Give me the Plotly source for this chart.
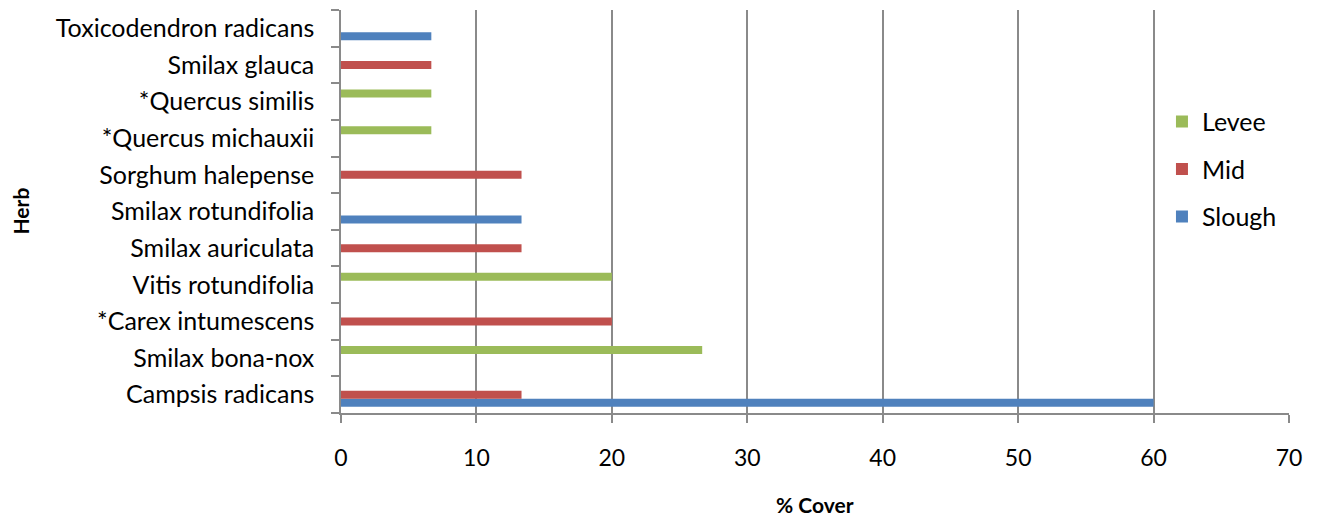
import plotly.graph_objects as go

categories = [
    "Campsis radicans", "Smilax bona-nox", "*Carex intumescens", "Vitis rotundifolia",
    "Smilax auriculata", "Smilax rotundifolia", "Sorghum halepense", "*Quercus michauxii",
    "*Quercus similis", "Smilax glauca", "Toxicodendron radicans",
]
slough = [60, 0, 0, 0, 0, 13.33, 0, 0, 0, 0, 6.67]
mid = [13.33, 0, 20, 0, 13.33, 0, 13.33, 0, 0, 6.67, 0]
levee = [0, 26.67, 0, 20, 0, 0, 0, 6.67, 6.67, 0, 0]
x_ticks = [0, 10, 20, 30, 40, 50, 60, 70]

FONT = "Lato"
GRID = "#8a8a8a"

fig = go.Figure()
for name, vals, col, rank in [("Slough", slough, "#4F81BD", 3), ("Mid", mid, "#C0504D", 2),
                              ("Levee", levee, "#9BBB59", 1)]:
    fig.add_trace(go.Bar(y=categories, x=vals, name=name, orientation="h",
                         marker=dict(color=col, line=dict(width=0)), legendgroup=name,
                         legendrank=rank))

fig.update_layout(
    width=1309, height=511,
    margin=dict(l=333, r=28, t=2, b=106),
    paper_bgcolor="white", plot_bgcolor="white",
    barmode="group", bargap=0.345, bargroupgap=0,
    font=dict(family=FONT, size=25, color="black"),
    legend=dict(x=0.866, xanchor="left", y=0.78, yanchor="top", traceorder="grouped",
                tracegroupgap=12, font=dict(size=25), bgcolor="rgba(0,0,0,0)"),
    xaxis=dict(range=[0, 70], tickvals=x_ticks, showgrid=True, gridcolor=GRID, gridwidth=1.5,
               showline=True, linecolor=GRID, linewidth=1.5, ticks="outside", ticklen=8,
               tickcolor=GRID, tickwidth=1.5, zeroline=False, ticklabelstandoff=16,
               tickfont=dict(size=23)),
    yaxis=dict(categoryorder="array", categoryarray=categories, showline=True, linecolor=GRID,
               linewidth=1.5, ticks="outside", tickson="boundaries", ticklen=8, tickcolor=GRID,
               tickwidth=1.5, showgrid=False, ticklabelstandoff=20, tickfont=dict(size=25)),
    annotations=[
        dict(text="<b>% Cover</b>", xref="paper", yref="paper", x=0.5, y=-0.226,
             xanchor="center", yanchor="middle", showarrow=False, font=dict(size=21)),
        dict(text="<b>Herb</b>", xref="paper", yref="paper", x=(20 - 341) / 948, y=0.5,
             xanchor="center", yanchor="middle", showarrow=False, textangle=-90, font=dict(size=21)),
    ],
)

fig.write_html("out.html")
